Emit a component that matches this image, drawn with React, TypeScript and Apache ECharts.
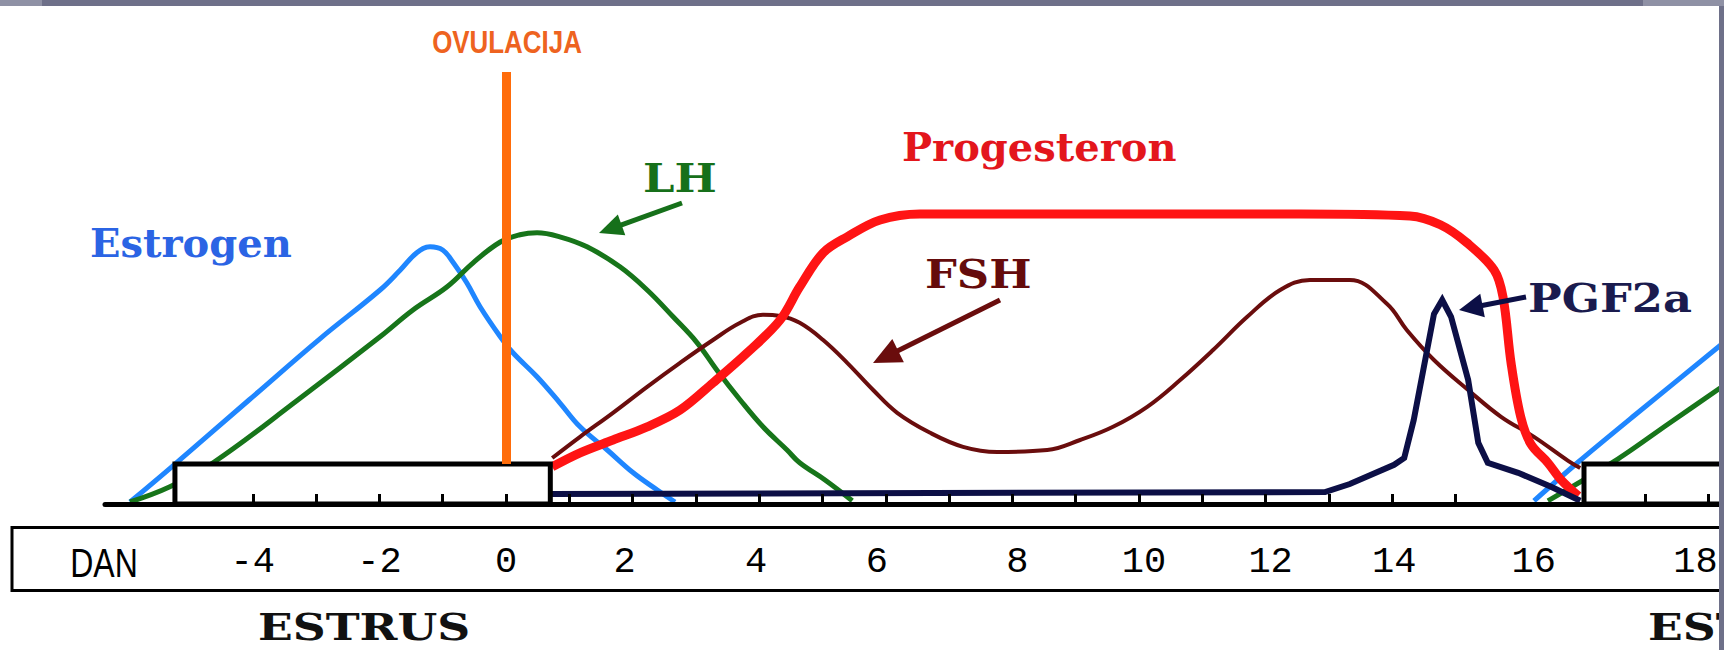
import { useEffect, useRef } from 'react';
import * as echarts from 'echarts';

// ---------- data (days relative to ovulation, hormone level in arbitrary units) ----------
const TICK_DAYS = [-4, -3, -2, -1, 0, 1, 2, 3, 4, 5, 6, 7, 8, 9, 10, 11, 12, 13, 14, 15, 18, 19];
const LABEL_DAYS = [-4, -2, 0, 2, 4, 6, 8, 10, 12, 14, 16, 18];

const ESTROGEN_DAY = [-5.94, -5.28, -4.06, -2.94, -1.99, -1.67, -1.41, -1.2, -1.0, -0.84, -0.62, -0.41, -0.09, 0.11, 0.49, 0.85, 1.17, 1.6, 2.01, 2.39, 2.67];
const ESTROGEN_LEVEL = [0.5, 9.3, 26, 41.3, 53.5, 58.5, 62.8, 64.3, 63.5, 60.5, 55.3, 49.3, 41.8, 37.8, 31.8, 25.3, 19.3, 13.5, 7.8, 3.5, 0.5];
const ESTROGEN_NEXT_DAY = [16.24, 16.94, 17.84, 19.21];
const ESTROGEN_NEXT_LEVEL = [0.8, 10.5, 22.3, 40];

const LH_DAY = [-5.94, -5.31, -4.61, -3.29, -1.99, -1.47, -0.93, -0.52, -0.09, 0.22, 0.49, 0.85, 1.28, 1.8, 2.23, 2.64, 3.02, 3.33, 3.7, 4.06, 4.44, 4.64, 5.04, 5.47];
const LH_LEVEL = [0.5, 4.3, 10.5, 26, 41.8, 48.5, 54.3, 60.3, 65.5, 67.3, 67.8, 66.8, 64.3, 59.3, 53.5, 46.8, 40.3, 33.5, 26, 19.3, 13.5, 10.3, 6, 0.8];
const LH_NEXT_DAY = [16.46, 17.57, 18.36, 19.21];
const LH_NEXT_LEVEL = [0.8, 11.3, 20, 29.3];

const PROG_DAY = [0.73, 1.17, 1.69, 2.23, 2.75, 3.27, 3.81, 4.33, 4.64, 5.01, 5.39, 5.91, 6.54, 12.54, 14.28, 14.76, 15.18, 15.61, 15.75, 15.88, 16.03, 16.19, 16.46, 16.67, 16.94];
const PROG_LEVEL = [9.3, 12.8, 16, 19.3, 23.5, 30.3, 37.8, 46, 54.3, 62.8, 66.8, 71, 72.5, 72.5, 72, 69.8, 65.3, 58.5, 51.8, 35, 21.8, 15, 10.3, 6, 2];

const FSH_DAY = [0.73, 1.17, 1.69, 2.23, 2.75, 3.27, 3.7, 4.06, 4.33, 4.64, 5.01, 5.39, 5.8, 6.18, 6.7, 7.22, 7.76, 8.55, 9.07, 9.59, 10.13, 10.65, 11.17, 11.71, 12.23, 12.7, 13.33, 13.92, 14.23, 14.66, 15.2, 15.72, 16.24, 16.78, 16.97];
const FSH_LEVEL = [11.5, 16.8, 22.8, 29.3, 35.3, 41, 45.3, 47.3, 47, 45.3, 41, 35.3, 28.5, 22.8, 17.8, 14.3, 13, 13.5, 16, 19.3, 24.3, 31, 38.5, 46.8, 53.5, 56, 56, 50, 43.5, 36, 28.5, 21.8, 16.8, 10.8, 9];

const PGF_DAY = [0.7, 12.94, 13.33, 14.03, 14.19, 14.34, 14.66, 14.79, 14.93, 15.2, 15.36, 15.51, 15.99, 16.51, 16.97];
const PGF_LEVEL = [2.5, 3, 5, 9.8, 11.5, 21, 47.5, 51, 46.8, 31, 15.3, 10.3, 7.8, 4.3, 0.8];

const OVULATION_DAY = 0;
const ESTRUS_START = -5.23;
const ESTRUS_END = 0.7;
const NEXT_ESTRUS_START = 17.03;

// ---------- layout ----------
const W = 1724;
const H = 650;
const X0_PX = 506;
const DAY_PX = 63.3;
const AXIS_Y = 504;
const UNIT_PX = 4;
const GRID_LEFT = 105;
const GRID_RIGHT_EDGE = 1719;
const Y_MAX = 108;
const X_MIN = (GRID_LEFT - X0_PX) / DAY_PX;
const X_MAX = (GRID_RIGHT_EDGE - X0_PX) / DAY_PX;
const toPx = (d: number) => X0_PX + d * DAY_PX;

const LABEL_NUDGE: Record<number, number> = { 2: -8, 4: -3, 6: -9, 8: 5, 10: 5, 12: 5, 14: 2, 16: 15, 18: 50 };

const C = {
  est: '#1f86ff',
  lh: '#17751a',
  prog: '#ff1414',
  fsh: '#6a0d0d',
  pgf: '#0c0f46',
  ovu: '#ff6c0a',
};

const pair = (xs: number[], ys: number[]) => xs.map((x, i) => [x, ys[i]]);

function arrow(sx: number, sy: number, tx: number, ty: number, color: string, width: number, headLen: number, headW: number) {
  const dx = tx - sx;
  const dy = ty - sy;
  const len = Math.hypot(dx, dy);
  const ux = dx / len;
  const uy = dy / len;
  const bx = tx - ux * headLen;
  const by = ty - uy * headLen;
  const nx = -uy;
  const ny = ux;
  return [
    { type: 'line', z: 20, shape: { x1: sx, y1: sy, x2: bx + ux * 3, y2: by + uy * 3 }, style: { stroke: color, lineWidth: width } },
    {
      type: 'polygon',
      z: 20,
      shape: { points: [[tx, ty], [bx + nx * headW, by + ny * headW], [bx - nx * headW, by - ny * headW]] },
      style: { fill: color },
    },
  ];
}

function label(text: string, x: number, y: number, size: number, family: string, weight: string, color: string, scaleX = 1, align = 'left') {
  return {
    type: 'text',
    x,
    y,
    scaleX,
    z: 20,
    style: {
      text,
      fontSize: size,
      fontFamily: family,
      fontWeight: weight,
      fill: color,
      textAlign: align,
      textVerticalAlign: 'middle',
      align,
      verticalAlign: 'middle',
    },
  };
}

const SERIF = "'DejaVu Serif', 'Liberation Serif', serif";
const SANS = "'Liberation Sans', Arial, sans-serif";
const MONO = "'Liberation Mono', 'DejaVu Sans Mono', monospace";

function buildRich() {
  const base = { fontFamily: MONO, fontSize: 37, color: '#000' };
  const rich: Record<string, any> = { c: { ...base } };
  Object.values(LABEL_NUDGE).forEach((n) => {
    if (n > 0) rich['r' + n] = { ...base, padding: [0, 0, 0, 2 * n] };
    else rich['l' + -n] = { ...base, padding: [0, -2 * n, 0, 0] };
  });
  return rich;
}

function buildOption() {
  const lineCommon = { type: 'line', xAxisIndex: 0, yAxisIndex: 0, symbol: 'none', showSymbol: false, z: 2, silent: true };
  const graphic: any[] = [
    // estrus boxes (drawn over the curves, under the axis)
    {
      type: 'rect', z: 5,
      shape: { x: toPx(ESTRUS_START), y: 464, width: toPx(ESTRUS_END) - toPx(ESTRUS_START), height: AXIS_Y - 464 },
      style: { fill: '#fff', stroke: '#000', lineWidth: 5 },
    },
    {
      type: 'rect', z: 5,
      shape: { x: toPx(NEXT_ESTRUS_START), y: 464, width: 300, height: AXIS_Y - 464 },
      style: { fill: '#fff', stroke: '#000', lineWidth: 5 },
    },
    // day band
    { type: 'rect', z: 5, shape: { x: 12, y: 527.5, width: 1900, height: 63 }, style: { fill: '#fff', stroke: '#000', lineWidth: 3 } },
    label('DAN', 104, 563, 40, SANS, 'normal', '#000', 0.8, 'center'),
    label('ESTRUS', 258, 627, 38, SERIF, 'bold', '#111', 1.2, 'left'),
    label('ESTRUS', 1648, 627, 38, SERIF, 'bold', '#111', 1.2, 'left'),
    label('OVULACIJA', 507, 42, 32, SANS, 'bold', '#ee6320', 0.81, 'center'),
    label('Estrogen', 90, 242, 40, SERIF, 'bold', '#2b64e4'),
    label('LH', 643, 178, 40, SERIF, 'bold', '#16701a', 1.12),
    label('Progesteron', 902, 146, 40, SERIF, 'bold', '#e3161c'),
    label('FSH', 925, 274, 40, SERIF, 'bold', '#650b0b', 1.12),
    label('PGF2a', 1528, 298, 40, SERIF, 'bold', '#1a1b4e', 1.12),
    ...arrow(682, 203, 599, 233, '#16701a', 5, 24, 11),
    ...arrow(1000, 300, 873, 363, C.fsh, 5, 28, 13),
    ...arrow(1526, 297, 1459, 310, C.pgf, 5, 24, 12),
    // slide frame
    { type: 'rect', z: 100, shape: { x: 0, y: 0, width: W, height: 6 }, style: { fill: '#6e7089' } },
    { type: 'rect', z: 101, shape: { x: 0, y: 0, width: 42, height: 6 }, style: { fill: '#8f91a5' } },
    { type: 'rect', z: 101, shape: { x: 1643, y: 0, width: 81, height: 6 }, style: { fill: '#8f91a5' } },
    { type: 'rect', z: 100, shape: { x: GRID_RIGHT_EDGE, y: 0, width: W - GRID_RIGHT_EDGE, height: H }, style: { fill: '#6e7089' } },
  ];

  return {
    animation: false,
    backgroundColor: '#fff',
    grid: [
      { left: GRID_LEFT, right: W - GRID_RIGHT_EDGE, top: AXIS_Y - Y_MAX * UNIT_PX, bottom: H - AXIS_Y },
      { left: GRID_LEFT, right: W - GRID_RIGHT_EDGE, top: 549, height: 1 },
    ],
    xAxis: [
      {
        type: 'value', gridIndex: 0, min: X_MIN, max: X_MAX, z: 10,
        axisLine: { show: true, onZero: false, lineStyle: { color: '#000', width: 5 } },
        axisTick: { show: true, inside: true, length: 10, lineStyle: { color: '#000', width: 3 }, customValues: TICK_DAYS },
        axisLabel: { show: false },
        splitLine: { show: false },
      },
      {
        type: 'value', gridIndex: 1, min: X_MIN, max: X_MAX, z: 10,
        axisLine: { show: false },
        axisTick: { show: false },
        splitLine: { show: false },
        axisLabel: {
          show: true,
          customValues: LABEL_DAYS,
          margin: 12,
          verticalAlign: 'middle',
          fontFamily: MONO,
          fontSize: 37,
          color: '#000',
          formatter: (v: number) => {
            const k = Math.round(v);
            const n = LABEL_NUDGE[k] || 0;
            const key = n > 0 ? 'r' + n : n < 0 ? 'l' + -n : 'c';
            return `{${key}|${k}}`;
          },
          rich: buildRich(),
        },
      },
    ],
    yAxis: [
      { type: 'value', gridIndex: 0, min: 0, max: Y_MAX, show: false },
      { type: 'value', gridIndex: 1, min: 0, max: 1, show: false },
    ],
    series: [
      { ...lineCommon, name: 'Estrogen', data: pair(ESTROGEN_DAY, ESTROGEN_LEVEL), smooth: 0.4, lineStyle: { color: C.est, width: 5 } },
      { ...lineCommon, name: 'Estrogen (next)', data: pair(ESTROGEN_NEXT_DAY, ESTROGEN_NEXT_LEVEL), smooth: 0.3, lineStyle: { color: C.est, width: 5 } },
      { ...lineCommon, name: 'LH', data: pair(LH_DAY, LH_LEVEL), smooth: 0.4, lineStyle: { color: C.lh, width: 5 } },
      { ...lineCommon, name: 'LH (next)', data: pair(LH_NEXT_DAY, LH_NEXT_LEVEL), smooth: 0.3, lineStyle: { color: C.lh, width: 5 } },
      { ...lineCommon, name: 'FSH', data: pair(FSH_DAY, FSH_LEVEL), smooth: 0.4, lineStyle: { color: C.fsh, width: 4 } },
      { ...lineCommon, name: 'Progesteron', data: pair(PROG_DAY, PROG_LEVEL), smooth: 0.35, lineStyle: { color: C.prog, width: 9 } },
      { ...lineCommon, name: 'PGF2a', data: pair(PGF_DAY, PGF_LEVEL), smooth: false, lineStyle: { color: C.pgf, width: 6, join: 'miter' } },
      {
        ...lineCommon, name: 'Ovulacija', data: [], z: 3,
        markLine: {
          silent: true, symbol: 'none', animation: false, label: { show: false },
          lineStyle: { color: C.ovu, width: 9, type: 'solid' },
          data: [[{ coord: [OVULATION_DAY, Y_MAX] }, { coord: [OVULATION_DAY, 10] }]],
        },
      },
    ],
    graphic,
  };
}

export default function App() {
  const ref = useRef<HTMLDivElement>(null);
  useEffect(() => {
    if (!ref.current) return;
    const chart = echarts.init(ref.current, null, { renderer: 'svg', width: W, height: H });
    chart.setOption(buildOption() as any);
    return () => chart.dispose();
  }, []);
  return <div ref={ref} style={{ position: 'fixed', left: 0, top: 0, width: W, height: H, background: '#fff' }} />;
}
